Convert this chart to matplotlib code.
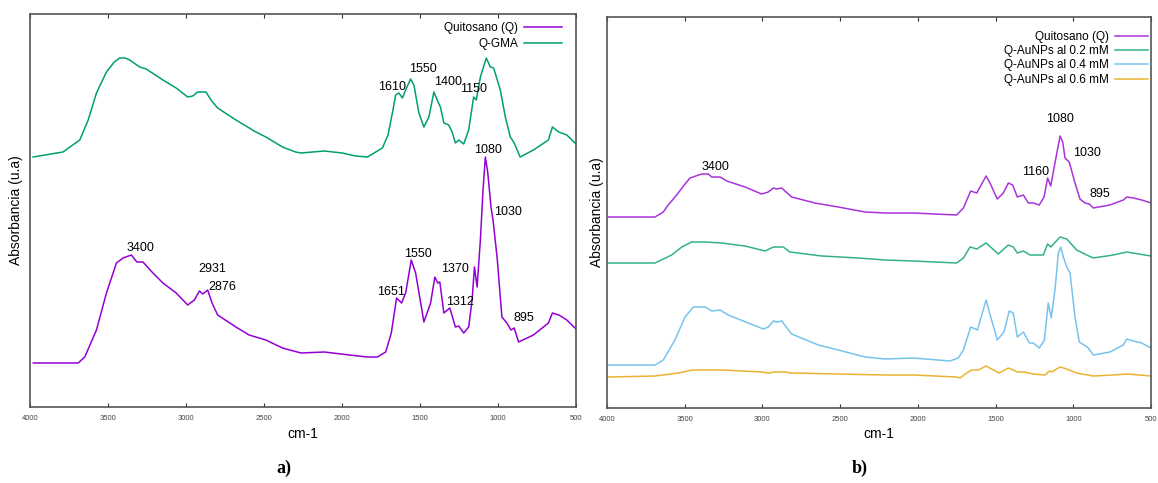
import numpy as np
import matplotlib
matplotlib.use('Agg')
import matplotlib.pyplot as plt

plt.rcParams['font.family'] = ['Liberation Sans', 'DejaVu Sans']

# ---------- panel a) ----------
wn_q_a = [3979, 3691, 3649, 3574, 3510, 3446, 3404, 3350, 3315, 3276, 3212, 3148, 3063, 2989,
          2946, 2914, 2893, 2861, 2833, 2797, 2680, 2595, 2488, 2382, 2263, 2114, 1952, 1837,
          1773, 1720,
          1684, 1650, 1618, 1592, 1556, 1528, 1475, 1432, 1405, 1386, 1373, 1347, 1309, 1273,
          1252, 1220, 1188, 1166, 1151, 1134, 1113, 1096, 1081, 1066, 1045, 1032, 1006, 975,
          943, 917, 896, 868, 773, 677, 651, 610, 559, 500]
ab_q_a = [0.44, 0.44, 0.50, 0.77, 1.14, 1.44, 1.49, 1.52, 1.45, 1.45, 1.34, 1.24, 1.14, 1.02,
          1.07, 1.16, 1.13, 1.17, 1.04, 0.92, 0.80, 0.72, 0.67, 0.59, 0.54, 0.55, 0.52, 0.50,
          0.50, 0.55,
          0.74, 1.09, 1.04, 1.14, 1.47, 1.34, 0.85, 1.04, 1.30, 1.24, 1.25, 0.94, 0.99, 0.80,
          0.81, 0.74, 0.80, 1.07, 1.40, 1.20, 1.67, 2.17, 2.50, 2.35, 2.00, 1.87, 1.50, 0.90,
          0.84, 0.77, 0.79, 0.65, 0.72, 0.84, 0.94, 0.92, 0.87, 0.78]

wn_gma = [3980, 3789, 3681, 3627, 3574, 3510, 3460, 3425, 3390, 3361, 3297, 3255, 3148, 3063,
          2989, 2957, 2925, 2872, 2840, 2797, 2680, 2552, 2488, 2382, 2297, 2263, 2114, 1999,
          1913, 1837, 1741, 1705,
          1677, 1656, 1635, 1613, 1592, 1560, 1539, 1507, 1475, 1443, 1411, 1390, 1369, 1347,
          1316, 1294, 1273, 1252, 1220, 1188, 1156, 1139, 1113, 1075, 1049, 1028, 985, 953,
          921, 896, 858, 773, 677, 651, 610, 559, 500]
ab_gma = [2.50, 2.55, 2.67, 2.87, 3.14, 3.35, 3.45, 3.49, 3.49, 3.47, 3.40, 3.38, 3.27, 3.19,
          3.10, 3.11, 3.15, 3.15, 3.07, 2.99, 2.87, 2.75, 2.70, 2.60, 2.55, 2.54, 2.56, 2.54,
          2.51, 2.50, 2.59, 2.72,
          2.94, 3.12, 3.14, 3.09, 3.17, 3.28, 3.22, 2.94, 2.80, 2.90, 3.15, 3.07, 3.00, 2.84,
          2.82, 2.75, 2.64, 2.67, 2.63, 2.77, 3.10, 3.07, 3.30, 3.49, 3.40, 3.39, 3.17, 2.90,
          2.70, 2.64, 2.50, 2.57, 2.67, 2.80, 2.75, 2.72, 2.63]

labels_a = ['3400', '2931', '2876', '1610', '1550', '1400', '1150', '1080', '1030',
            '1550', '1370', '1651', '1312', '895']
lab_x_a = [3291, 2834, 2769, 1676, 1480, 1320, 1156, 1063, 935, 1514, 1278, 1686, 1242, 837]
lab_y_a = [1.59, 1.38, 1.20, 3.20, 3.38, 3.25, 3.18, 2.57, 1.95, 1.53, 1.38, 1.15, 1.05, 0.89]

# ---------- panel b) ----------
wn_q_b = [3992, 3691, 3638, 3606, 3552, 3498, 3466, 3391, 3348, 3326, 3273, 3230, 3112, 3005,
          2962, 2930,
          2908, 2876, 2812, 2662, 2512, 2340, 2211, 2029, 1750, 1707, 1660, 1621, 1561, 1536,
          1489, 1450, 1418, 1390, 1360, 1321, 1289, 1257, 1219, 1188, 1165, 1145, 1118, 1085,
          1068, 1053, 1026, 989, 957, 925, 897, 871, 764, 678, 656, 614, 560, 500]
ab_q_b = [1.91, 1.91, 1.96, 2.03, 2.13, 2.24, 2.30, 2.34, 2.34, 2.31, 2.31, 2.27, 2.21, 2.14,
          2.16, 2.20,
          2.19, 2.20, 2.11, 2.05, 2.01, 1.96, 1.95, 1.95, 1.93, 2.00, 2.17, 2.15, 2.32, 2.25,
          2.09, 2.15, 2.25, 2.23, 2.11, 2.13, 2.05, 2.05, 2.03, 2.11, 2.30, 2.22, 2.45, 2.72,
          2.66, 2.50, 2.46, 2.25, 2.09, 2.05, 2.04, 2.00, 2.03, 2.08, 2.11, 2.10, 2.08, 2.05]

wn_02 = [3992, 3691, 3584, 3519, 3455, 3369, 3262, 3112, 2983, 2930, 2866, 2823, 2619, 2383,
         2211, 2029, 1750, 1707, 1664, 1621, 1561, 1482, 1418, 1386, 1360, 1321, 1278, 1193,
         1165, 1145, 1085, 1042, 978, 914, 871, 743, 656, 500]
ab_02 = [1.45, 1.45, 1.53, 1.61, 1.66, 1.66, 1.65, 1.62, 1.57, 1.61, 1.61, 1.56, 1.52, 1.50,
         1.48, 1.47, 1.45, 1.50, 1.61, 1.59, 1.65, 1.54, 1.63, 1.61, 1.55, 1.57, 1.53, 1.53,
         1.64, 1.61, 1.71, 1.69, 1.58, 1.53, 1.50, 1.53, 1.56, 1.52]

wn_04 = [3992, 3691, 3638, 3563, 3498, 3445, 3369, 3326, 3273, 3220, 3091, 2994, 2962, 2930,
         2908, 2876, 2812, 2640, 2512, 2340, 2211, 2029, 1793, 1740, 1707, 1660, 1617, 1561,
         1531, 1489, 1446, 1412, 1386, 1360, 1321, 1283, 1257, 1219, 1186, 1161, 1142, 1118,
         1096, 1081, 1064, 1042, 1021, 989, 961, 931, 903, 871, 764, 678, 656, 614, 560, 500]
ab_04 = [0.43, 0.43, 0.48, 0.68, 0.91, 1.01, 1.01, 0.97, 0.98, 0.93, 0.85, 0.79, 0.81, 0.87,
         0.86, 0.87, 0.74, 0.63, 0.58, 0.51, 0.49, 0.50, 0.47, 0.50, 0.58, 0.81, 0.78, 1.08,
         0.91, 0.68, 0.76, 0.97, 0.95, 0.71, 0.76, 0.65, 0.65, 0.60, 0.68, 1.05, 0.90, 1.18,
         1.55, 1.61, 1.51, 1.41, 1.35, 0.91, 0.66, 0.63, 0.60, 0.53, 0.56, 0.63, 0.69, 0.67,
         0.65, 0.60]

wn_06 = [3992, 3691, 3541, 3451, 3262, 3005, 2962, 2919, 2855, 2812, 2512, 2211, 2029, 1750,
         1729, 1686, 1654, 1611, 1561, 1514, 1476, 1418, 1386, 1360, 1321, 1257, 1182, 1154,
         1139, 1085, 1042, 978, 871, 743, 656, 500]
ab_06 = [0.31, 0.32, 0.35, 0.38, 0.38, 0.36, 0.35, 0.36, 0.36, 0.35, 0.34, 0.33, 0.33, 0.31,
         0.30, 0.35, 0.38, 0.38, 0.42, 0.38, 0.35, 0.40, 0.38, 0.36, 0.36, 0.34, 0.33, 0.37,
         0.36, 0.41, 0.39, 0.35, 0.32, 0.33, 0.34, 0.32]

labels_b = ['3400', '1080', '1030', '1160', '895']
lab_x_b = [3305, 1087, 910, 1243, 826]
lab_y_b = [2.41, 2.89, 2.55, 2.36, 2.14]

purple = '#9400d3'
green = '#009e73'
blue = '#56b4e9'
orange = '#e69f00'

fig = plt.figure(figsize=(11.58, 4.83), dpi=100)
ax1 = fig.add_axes([30 / 1158, 76 / 483, 546 / 1158, 393 / 483])
ax2 = fig.add_axes([607 / 1158, 75 / 483, 544 / 1158, 391 / 483])

ax1.plot(wn_q_a, ab_q_a, color=purple, lw=1.1, label='Quitosano (Q)')
ax1.plot(wn_gma, ab_gma, color=green, lw=1.1, label='Q-GMA')
for t, x, y in zip(labels_a, lab_x_a, lab_y_a):
    ax1.text(x, y, t, ha='center', va='center', fontsize=9)
ax1.set_ylim(0, 3.93)

ax2.plot(wn_q_b, ab_q_b, color=purple, lw=1.1, alpha=0.8, label='Quitosano (Q)')
ax2.plot(wn_02, ab_02, color=green, lw=1.1, alpha=0.8, label='Q-AuNPs al 0.2 mM')
ax2.plot(wn_04, ab_04, color=blue, lw=1.1, alpha=0.8, label='Q-AuNPs al 0.4 mM')
ax2.plot(wn_06, ab_06, color=orange, lw=1.1, alpha=0.8, label='Q-AuNPs al 0.6 mM')
for t, x, y in zip(labels_b, lab_x_b, lab_y_b):
    ax2.text(x, y, t, ha='center', va='center', fontsize=9)
ax2.set_ylim(0, 3.91)

panels = [(ax1, 'a)', 5, 0.32, (0.983, 0.991), 3.2),
          (ax2, 'b)', 2, 0.2, (1.003, 0.977), 2.8)]
for ax, tag, lpad, lsp, anchor, hlen in panels:
    ax.set_xlim(4000, 500)
    ax.set_xticks([4000, 3500, 3000, 2500, 2000, 1500, 1000, 500])
    ax.tick_params(axis='x', direction='in', top=True, length=3, labelsize=5.5, pad=6,
                   colors='#333333', labelcolor='#444444')
    ax.set_yticks([])
    for s in ax.spines.values():
        s.set_color('#555555')
        s.set_linewidth(1.2)
    ax.set_xlabel('cm-1', fontsize=10, labelpad=3)
    ax.set_ylabel('Absorbancia (u.a)', fontsize=10, labelpad=lpad)
    ax.legend(loc='upper right', bbox_to_anchor=anchor, borderaxespad=0, frameon=False,
              markerfirst=False, fontsize=8.5, handlelength=hlen, handletextpad=0.5,
              labelspacing=lsp)
    ax.text(0.465, -0.155, tag, transform=ax.transAxes, ha='center', va='center',
            fontsize=13, fontweight='bold', family='Liberation Serif')

fig.savefig('out.png', dpi=100)
